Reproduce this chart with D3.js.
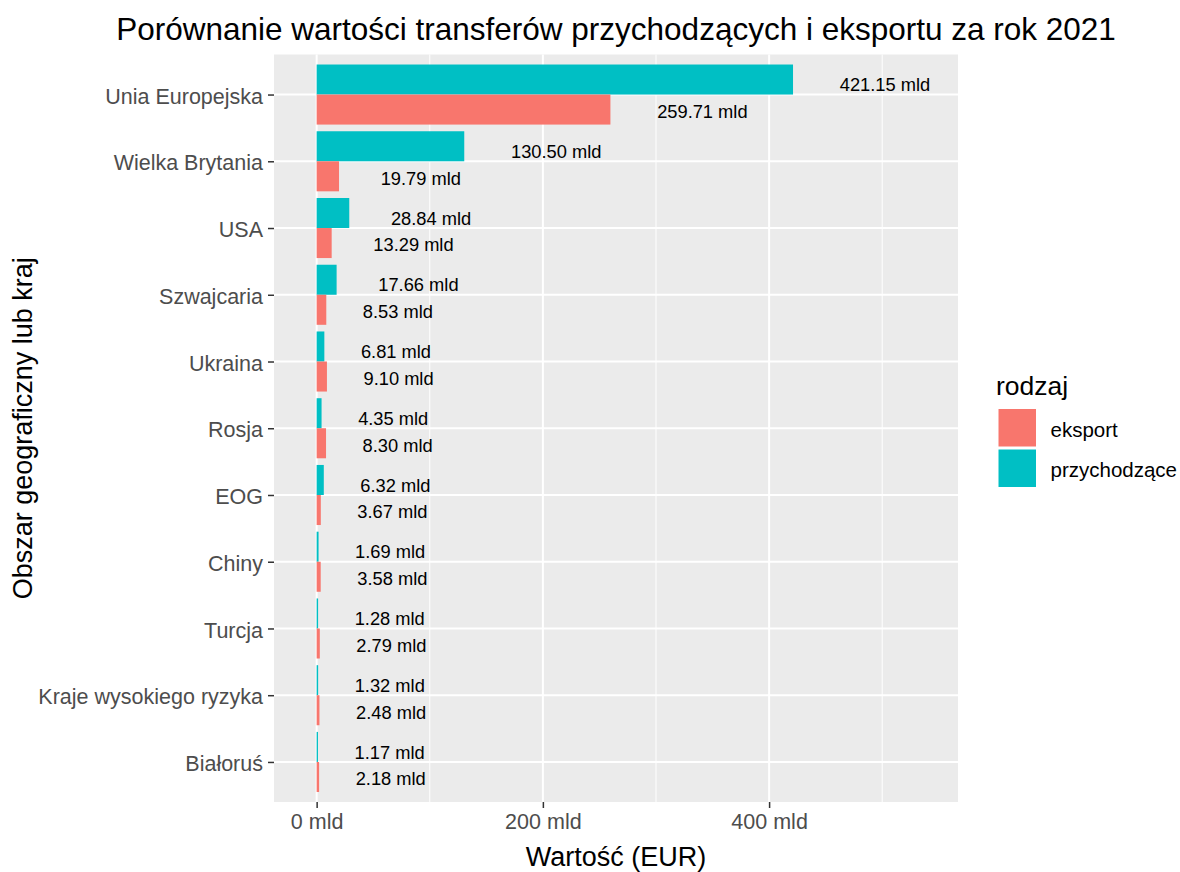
<!DOCTYPE html>
<html>
<head>
<meta charset="utf-8">
<script src="https://cdn.jsdelivr.net/npm/d3@7"></script>
<style>
  body { margin: 0; background: #fff; }
  svg { font-family: "Liberation Sans", Arial, sans-serif; }
  .axis-text { fill: #4D4D4D; font-size: 21.5px; }
  .bar-label { fill: #000; font-size: 18.3px; }
</style>
</head>
<body>
<svg id="chart" width="1180" height="872"></svg>
<script>
// categories top to bottom
const categories = ["Unia Europejska", "Wielka Brytania", "USA", "Szwajcaria", "Ukraina",
  "Rosja", "EOG", "Chiny", "Turcja", "Kraje wysokiego ryzyka", "Białoruś"];
const przychodzace = [421.15, 130.50, 28.84, 17.66, 6.81, 4.35, 6.32, 1.69, 1.28, 1.32, 1.17];
const eksport = [259.71, 19.79, 13.29, 8.53, 9.10, 8.30, 3.67, 3.58, 2.79, 2.48, 2.18];
const seriesNames = ["eksport", "przychodzące"];
const seriesColors = ["#F8766D", "#00BFC4"];
const xTicks = [0, 200, 400];
const xMinorTicks = [100, 300, 500];
const xDomain = [-37.7, 567];

const dims = { width: 1180, height: 872, margin: { top: 54.5, right: 222, bottom: 70, left: 274 } };

const data = [];
categories.forEach((c, i) => {
  data.push({ CATEGORY: c, SERIES: "przychodzące", VALUE: przychodzace[i] });
  data.push({ CATEGORY: c, SERIES: "eksport", VALUE: eksport[i] });
});

const svg = d3.select("#chart");
const panel = {
  x0: dims.margin.left, x1: dims.width - dims.margin.right,
  y0: dims.margin.top, y1: dims.height - dims.margin.bottom
};

const x = d3.scaleLinear().domain(xDomain).range([panel.x0, panel.x1]);
const y = d3.scalePoint().domain(categories).range([panel.y0, panel.y1]).padding(0.6);
const step = y.step();
// dodge inside a category (bars 0.9, labels 0.8)
const yBar = d3.scaleBand().domain(["przychodzące", "eksport"]).range([-0.45 * step, 0.45 * step]);
const yLab = d3.scaleBand().domain(["przychodzące", "eksport"]).range([-0.4 * step, 0.4 * step]);
const color = d3.scaleOrdinal().domain(seriesNames).range(seriesColors);

function writePanel(svg) {
  svg.append("rect")
    .attr("x", panel.x0).attr("y", panel.y0)
    .attr("width", panel.x1 - panel.x0).attr("height", panel.y1 - panel.y0)
    .attr("fill", "#EBEBEB");

  const g = svg.append("g").attr("class", "grid").attr("stroke", "#fff");
  g.selectAll(".minor").data(xMinorTicks).join("line")
    .attr("x1", d => x(d)).attr("x2", d => x(d))
    .attr("y1", panel.y0).attr("y2", panel.y1)
    .attr("stroke-width", 1);
  g.selectAll(".major-x").data(xTicks).join("line")
    .attr("x1", d => x(d)).attr("x2", d => x(d))
    .attr("y1", panel.y0).attr("y2", panel.y1)
    .attr("stroke-width", 2);
  g.selectAll(".major-y").data(categories).join("line")
    .attr("y1", d => y(d)).attr("y2", d => y(d))
    .attr("x1", panel.x0).attr("x2", panel.x1)
    .attr("stroke-width", 2);
}

function writeBars(svg) {
  svg.append("g")
    .attr("class", "bars")
    .selectAll("rect")
    .data(data)
    .join("rect")
      .attr("x", x(0))
      .attr("y", d => y(d.CATEGORY) + yBar(d.SERIES))
      .attr("width", d => x(d.VALUE) - x(0))
      .attr("height", yBar.bandwidth())
      .attr("fill", d => color(d.SERIES));
}

function writeBarValues(svg) {
  svg.append("g")
    .attr("class", "bar-label-group")
    .selectAll("text")
    .data(data)
    .join("text")
      .attr("class", "bar-label")
      .attr("y", d => y(d.CATEGORY) + yLab(d.SERIES) + yLab.bandwidth() / 2 + 10)
      .text(d => d.VALUE.toFixed(2) + " mld")
      .attr("x", function(d) {
        // hjust = -0.5
        const w = this.getComputedTextLength();
        return x(d.VALUE) + w / 2 + 1.5;
      })
      .attr("text-anchor", "start");
}

function writeAxes(svg) {
  const yAxis = svg.append("g")
    .attr("transform", `translate(${panel.x0},0)`)
    .call(d3.axisLeft(y).tickSize(6).tickPadding(5));
  yAxis.select(".domain").remove();
  yAxis.selectAll(".tick line").attr("stroke", "#333").attr("stroke-width", 1.5);
  yAxis.selectAll(".tick text").attr("class", "axis-text").attr("dy", "0.4em")
    .attr("font-size", null).attr("fill", null);

  const xAxis = svg.append("g")
    .attr("transform", `translate(0,${panel.y1})`)
    .call(d3.axisBottom(x).tickValues(xTicks).tickSize(6).tickPadding(5).tickFormat(d => d + " mld"));
  xAxis.select(".domain").remove();
  xAxis.selectAll(".tick line").attr("stroke", "#333").attr("stroke-width", 1.5);
  xAxis.selectAll(".tick text").attr("class", "axis-text").attr("dy", "0.75em")
    .attr("font-size", null).attr("fill", null);
  svg.selectAll(".tick text").attr("font-family", null);
}

function writeTitles(svg) {
  const cx = (panel.x0 + panel.x1) / 2;
  svg.append("text")
    .text("Porównanie wartości transferów przychodzących i eksportu za rok 2021")
    .attr("x", cx).attr("y", 40)
    .attr("text-anchor", "middle")
    .attr("font-size", 31.5);
  svg.append("text")
    .text("Wartość (EUR)")
    .attr("x", cx).attr("y", 866)
    .attr("text-anchor", "middle")
    .attr("font-size", 27);
  svg.append("text")
    .text("Obszar geograficzny lub kraj")
    .attr("transform", `translate(32,${(panel.y0 + panel.y1) / 2}) rotate(-90)`)
    .attr("text-anchor", "middle")
    .attr("font-size", 27);
}

function writeLegend(svg) {
  const lx = 998, ly = 408.5, key = 38.5, gap = 2;
  svg.append("text")
    .text("rodzaj")
    .attr("x", lx - 2).attr("y", 395)
    .attr("font-size", 26.5);
  const items = svg.append("g").attr("class", "legend")
    .selectAll("g")
    .data(seriesNames)
    .join("g")
      .attr("transform", (d, i) => `translate(${lx},${ly + i * (key + gap)})`);
  items.append("rect")
    .attr("width", key).attr("height", key)
    .attr("fill", d => color(d))
    .attr("stroke", "#fff").attr("stroke-width", 1);
  items.append("text")
    .text(d => d)
    .attr("x", key + 14).attr("y", key / 2 + 9)
    .attr("font-size", 20.5);
}

writePanel(svg);
writeBars(svg);
writeBarValues(svg);
writeAxes(svg);
writeTitles(svg);
writeLegend(svg);
</script>
</body>
</html>
